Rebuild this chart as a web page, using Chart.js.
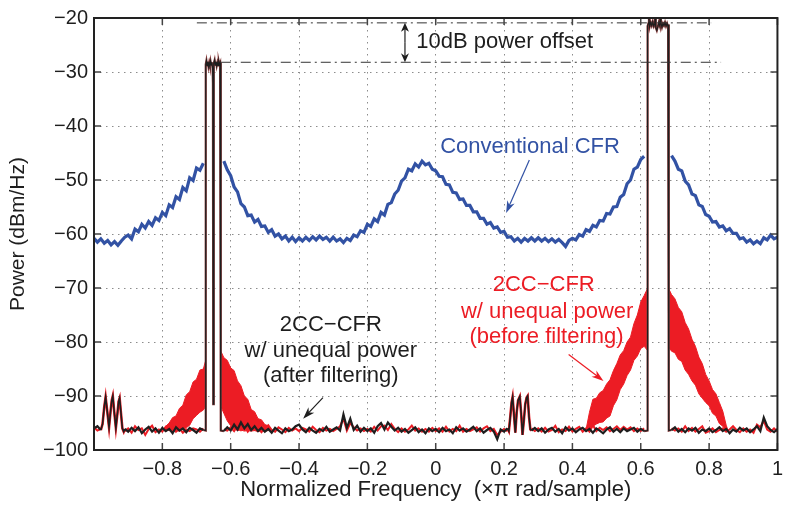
<!DOCTYPE html>
<html>
<head>
<meta charset="utf-8">
<script src="https://cdn.jsdelivr.net/npm/chart.js@4/dist/chart.umd.min.js"></script>
<style>
  body { margin: 0; background: #fff; }
  canvas { display: block; }
</style>
</head>
<body>
<canvas id="chart" width="790" height="508"></canvas>
<script>
// frequency grid, step 0.01 (x pi rad/sample)
const freq = Array.from({ length: 201 }, (_, i) => Math.round((-1 + i * 0.01) * 100) / 100);

const xTicks = [-1, -0.8, -0.6, -0.4, -0.2, 0, 0.2, 0.4, 0.6, 0.8, 1];
const xTickLabels = ['', '−0.8', '−0.6', '−0.4', '−0.2', '0', '0.2', '0.4', '0.6', '0.8', '1'];
const yTicks = [-100, -90, -80, -70, -60, -50, -40, -30, -20];

// Conventional CFR (blue), dBm/Hz on the grid
const blueDb = [
  -60.8, -61.5, -60.9, -61.7, -61.2, -62.0, -61.4, -62.1, -61.3, -60.6,
  -60.2, -60.9, -59.1, -59.6, -58.2, -58.9, -57.7, -58.4, -57.0, -57.5,
  -56.0, -56.6, -54.6, -55.1, -53.1, -53.6, -51.4, -52.0, -49.6, -50.1,
  -47.8, -48.2, -46.9, null, null, null, null, null, -46.5, -48.1,
  -49.2, -51.3, -52.2, -54.4, -55.0, -56.6, -56.5, -57.8, -57.3, -58.6,
  -58.5, -59.7, -59.2, -60.4, -60.0, -60.9, -60.4, -61.3, -60.6, -61.4,
  -60.7, -61.3, -60.6, -61.2, -60.5, -61.1, -60.4, -61.0, -60.6, -61.3,
  -60.6, -61.3, -60.9, -61.6, -60.8, -61.2, -60.2, -60.5, -59.4, -59.7,
  -58.2, -58.6, -57.2, -57.7, -56.0, -56.5, -54.5, -54.2, -52.6, -51.9,
  -50.2, -49.6, -48.0, -48.3, -47.0, -47.6, -46.5, -47.2, -46.9, -48.0,
  -48.3, -49.3, -49.4, -50.8, -50.9, -52.3, -52.4, -53.6, -53.5, -54.7,
  -54.7, -55.9, -55.9, -57.1, -57.1, -58.2, -57.9, -58.9, -58.7, -59.7,
  -59.5, -60.6, -60.5, -61.3, -60.8, -61.5, -60.8, -61.3, -60.7, -61.3,
  -60.7, -61.3, -60.8, -61.4, -60.9, -61.5, -61.0, -61.6, -62.3, -61.2,
  -60.8, -61.1, -60.1, -60.4, -59.2, -59.5, -58.4, -58.7, -57.5, -57.6,
  -56.2, -56.3, -55.0, -54.9, -53.2, -52.7, -50.7, -50.0, -48.0, -47.6,
  -46.2, -45.6, null, null, null, null, null, null, null, -45.5,
  -46.5, -48.0, -48.3, -50.2, -50.9, -52.6, -52.9, -54.6, -54.9, -56.4,
  -56.7, -57.8, -57.7, -58.7, -58.5, -59.4, -59.0, -59.9, -59.9, -60.9,
  -60.7, -61.5, -61.1, -61.8, -61.3, -61.8, -60.7, -61.1, -60.2, -60.9,
  -60.6
];

// 2CC-CFR after filtering (black) noise floor on the grid
const blackDb = [
  -96.0, -95.6, -96.3, null, null, null, null, null, null, -96.1,
  -96.6, -95.9, -96.5, -95.8, -96.9, -96.2, -95.7, -96.6, -96.0, -96.8,
  -95.9, -96.5, -96.1, -96.9, -95.8, -96.4, -96.0, -96.7, -95.9, -96.3,
  -96.8, -96.0, -96.3, null, null, null, null, null, -96.5, -95.8,
  -96.4, -95.3, -96.2, -94.9, -96.0, -95.2, -96.3, -95.6, -96.5, -95.9,
  -96.6, -96.1, -96.8, -95.9, -96.4, -96.9, -96.0, -96.5, -96.2, -95.6,
  -95.3, -96.2, -96.7, -95.9, -96.4, -96.8, -96.1, -96.5, -95.7, -96.6,
  -96.2, -95.8, -96.4, -93.4, -95.9, -94.2, -96.3, -95.5, -96.6, -95.9,
  -96.5, -96.0, -96.8, -95.6, -95.0, -96.2, -94.9, -95.7, -96.4, -95.9,
  -96.6, -96.1, -96.8, -96.3, -95.8, -96.7, -96.2, -96.9, -96.0, -96.5,
  -96.1, -96.7, -95.9, -96.5, -96.2, -96.9, -95.8, -96.4, -96.0, -96.6,
  -96.2, -95.7, -96.5, -96.0, -96.8, -96.3, -95.9, -96.6, -98.0, -96.2,
  -96.6, -96.0, null, null, null, null, null, null, -96.4, -95.9,
  -96.5, -96.0, -96.8, -96.2, -95.9, -96.6, -96.1, -96.9, -95.8, -96.4,
  -96.0, -96.7, -96.2, -95.9, -96.5, -96.1, -96.8, -96.0, -96.4, -96.9,
  -96.2, -95.8, -96.6, -96.1, -96.7, -96.0, -96.5, -96.2, -95.9, -96.6,
  -96.1, -96.5, null, null, null, null, null, null, null, -96.3,
  -95.8, -96.6, -96.1, -96.7, -96.0, -96.4, -95.9, -96.8, -96.2, -96.5,
  -96.0, -96.7, -96.3, -95.8, -96.5, -96.1, -96.9, -96.2, -96.6, -95.9,
  -96.4, -96.0, -96.7, -96.2, -95.6, -96.5, -94.0, -95.6, -96.3, -96.7,
  -96.1
];

// 2CC-CFR before filtering (red) noise floor on the grid
const redDb = [
  -95.8, -96.4, -96.1, null, null, null, null, null, null, -96.5,
  -96.0, -96.8, -95.6, -96.3, -96.0, -97.2, -96.1, -95.5, -96.7, -96.2,
  -96.6, -95.7, -96.3, -95.5, -96.6, -96.0, -96.8, -96.2, -96.5, -96.0,
  -96.2, -96.6, -96.0, null, null, null, null, null, -96.2, -96.4,
  -95.8, -96.5, -95.5, -96.3, -95.4, -96.6, -95.8, -96.3, -95.9, -96.7,
  -96.0, -95.4, -96.3, -96.6, -95.8, -96.2, -96.7, -95.9, -96.4, -96.0,
  -96.5, -95.9, -96.2, -96.6, -95.7, -96.3, -96.7, -95.9, -96.4, -96.1,
  -96.5, -96.1, -95.6, -94.2, -96.4, -95.0, -95.8, -96.4, -96.0, -96.5,
  -96.1, -96.6, -95.7, -96.4, -95.6, -95.5, -96.3, -95.2, -96.1, -96.7,
  -96.0, -96.6, -96.2, -95.5, -96.4, -96.0, -96.6, -96.1, -96.6, -95.9,
  -96.5, -96.0, -96.6, -95.7, -96.6, -96.1, -96.5, -95.5, -96.6, -96.1,
  -96.5, -96.2, -95.8, -96.6, -96.0, -95.6, -96.5, -96.1, -97.2, -96.6,
  -96.1, -96.5, null, null, null, null, null, null, -96.0, -96.5,
  -96.0, -96.6, -95.9, -96.6, -96.3, -95.5, -96.7, -96.2, -96.5, -95.7,
  -96.6, -96.1, -95.7, -96.6, -96.0, -96.6, -95.4, -96.5, -95.9, -96.3,
  -95.8, -96.5, -96.1, -95.6, -96.3, -95.7, -96.2, -95.8, -96.5, -96.0,
  -96.5, -96.0, null, null, null, null, null, null, null, -96.0,
  -96.4, -96.0, -96.6, -95.6, -96.5, -95.9, -96.6, -96.1, -95.6, -96.8,
  -96.5, -96.0, -96.7, -96.3, -96.0, -96.6, -96.2, -95.6, -96.3, -96.7,
  -96.0, -96.6, -96.2, -96.8, -95.3, -95.8, -94.6, -96.2, -96.6, -96.0,
  -96.6
];

// periodic spurs (both traces)
const spurLFreq = [-0.98, -0.975, -0.970, -0.966, -0.962, -0.956, -0.951, -0.948, -0.945, -0.941, -0.936, -0.931, -0.928, -0.925, -0.921, -0.917, -0.913, -0.91];
const spurLDb = [-96.3, -95.2, -92.0, -90.2, -92.4, -95.8, -92.5, -90.8, -90.0, -92.8, -95.9, -93.0, -91.0, -90.4, -93.2, -96.0, -96.6, -96.1];
const spurRFreq = [0.21, 0.214, 0.218, 0.222, 0.225, 0.229, 0.233, 0.237, 0.241, 0.246, 0.25, 0.254, 0.258, 0.262, 0.266, 0.269, 0.273, 0.277, 0.28];
const spurRDb = [-96.0, -96.5, -94.0, -91.2, -90.2, -93.5, -96.8, -93.0, -90.8, -90.1, -93.2, -97.2, -94.5, -91.5, -90.3, -90.0, -93.8, -96.2, -96.4];

// carriers
const carrierLFreq = [-0.68, -0.673, -0.673, -0.671, -0.669, -0.667, -0.665, -0.663, -0.661, -0.659, -0.657, -0.655, -0.653, -0.652, -0.651, -0.650,
  -0.649, -0.647, -0.645, -0.643, -0.641, -0.639, -0.637, -0.635, -0.633, -0.631, -0.629, -0.629, -0.62];
const carrierLDb = [-96.3, -96.4, -28.6, -27.9, -28.8, -28.1, -29.0, -28.3, -28.9, -28.0, -28.7, -28.2, -29.3, -32.0, -91.5, -32.0,
  -28.4, -27.8, -28.7, -28.1, -28.9, -28.3, -28.8, -28.0, -28.6, -28.3, -28.8, -96.4, -96.5];
const carrierRFreq = [0.61, 0.620, 0.620, 0.623, 0.624, 0.626, 0.629, 0.632, 0.635, 0.638, 0.641, 0.642, 0.644, 0.647, 0.650, 0.653, 0.656, 0.657,
  0.659, 0.662, 0.665, 0.668, 0.671, 0.674, 0.677, 0.680, 0.682, 0.682, 0.69];
const carrierRDb = [-96.5, -96.4, -21.5, -20.9, -19.9, -21.6, -20.8, -21.4, -20.7, -21.5, -21.0, -19.9, -21.8, -22.3, -21.6, -20.8, -21.5, -19.9,
  -20.9, -21.7, -21.0, -21.4, -20.8, -21.5, -21.0, -21.6, -21.2, -96.4, -96.3];

// red regrowth around the carriers: lower / upper edge of the band
const regrowLLFreq = [-0.80, -0.79, -0.78, -0.77, -0.76, -0.75, -0.74, -0.73, -0.72, -0.71, -0.70, -0.69, -0.68, -0.674];
const regrowLLUpper = [-96.3, -95.6, -95.0, -94.0, -93.7, -92.3, -91.7, -89.8, -89.2, -87.4, -86.9, -85.2, -85.0, -83.6];
const regrowLLLower = [-96.3, -96.5, -96.3, -96.6, -96.4, -96.5, -96.2, -95.9, -95.4, -94.2, -93.6, -93.0, -92.6, -92.0];
const regrowLRFreq = [-0.628, -0.62, -0.61, -0.60, -0.59, -0.58, -0.57, -0.56, -0.55, -0.54, -0.53, -0.52, -0.51, -0.50, -0.49, -0.48];
const regrowLRUpper = [-81.8, -82.9, -83.4, -84.8, -85.3, -87.2, -88.1, -90.0, -90.6, -92.5, -92.9, -94.2, -94.4, -95.3, -95.5, -96.2];
const regrowLRLower = [-92.0, -93.2, -94.6, -95.5, -96.1, -96.4, -96.3, -96.5, -96.4, -96.5, -96.4, -96.6, -96.4, -96.5, -96.4, -96.3];
const regrowRLFreq = [0.44, 0.45, 0.46, 0.47, 0.48, 0.49, 0.50, 0.51, 0.52, 0.53, 0.54, 0.55, 0.56, 0.57, 0.58, 0.59, 0.60, 0.61, 0.619];
const regrowRLUpper = [-96.2, -93.0, -90.6, -90.4, -89.4, -89.0, -87.8, -87.0, -85.3, -84.0, -82.4, -81.6, -80.0, -79.1, -76.6, -75.0, -72.6, -71.4, -70.2];
const regrowRLLower = [-96.4, -96.2, -95.6, -95.2, -94.9, -94.8, -94.1, -93.7, -91.8, -90.7, -88.8, -87.8, -86.2, -85.2, -83.4, -82.6, -81.2, -80.8, -81.5];
const regrowRRFreq = [0.683, 0.69, 0.70, 0.71, 0.72, 0.73, 0.74, 0.75, 0.76, 0.77, 0.78, 0.79, 0.80, 0.81, 0.82, 0.83, 0.84, 0.85, 0.855];
const regrowRRUpper = [-70.3, -71.2, -72.0, -73.6, -74.4, -76.4, -77.6, -79.5, -80.8, -82.8, -84.0, -86.0, -87.2, -88.8, -89.6, -91.2, -92.8, -95.4, -96.3];
const regrowRRLower = [-81.0, -81.7, -82.0, -83.2, -83.6, -85.2, -86.0, -87.2, -88.0, -89.6, -90.4, -91.2, -91.8, -93.2, -93.7, -95.1, -95.6, -96.4, -96.4];

// 10 dB offset reference levels
const levelHighFreq = [-0.699, 0.806];
const levelHighDb = [-20.9, -20.9];
const levelLowFreq = [-0.629, 0.835];
const levelLowDb = [-28.2, -28.2];

const BLUE = '#3252a4';
const RED = '#ec1c24';
const BLACK = '#1e1e1e';
const FONT = '"Liberation Sans", Arial, Helvetica, sans-serif';

const xy = (xs, ys) => xs.map((x, i) => ({ x: x, y: ys[i] }));

function line(data, color, width, extra) {
  return Object.assign({
    data: data,
    borderColor: color,
    backgroundColor: color,
    borderWidth: width,
    pointRadius: 0,
    tension: 0,
    fill: false,
    spanGaps: false
  }, extra || {});
}

function arrow(ctx, x1, y1, x2, y2, color, len, half) {
  const ang = Math.atan2(y2 - y1, x2 - x1);
  ctx.strokeStyle = color;
  ctx.fillStyle = color;
  ctx.lineWidth = 1.2;
  ctx.beginPath();
  ctx.moveTo(x1, y1);
  ctx.lineTo(x2 - Math.cos(ang) * len * 0.6, y2 - Math.sin(ang) * len * 0.6);
  ctx.stroke();
  ctx.beginPath();
  ctx.moveTo(x2, y2);
  ctx.lineTo(x2 - Math.cos(ang) * len + Math.sin(ang) * half, y2 - Math.sin(ang) * len - Math.cos(ang) * half);
  ctx.lineTo(x2 - Math.cos(ang) * len * 0.7, y2 - Math.sin(ang) * len * 0.7);
  ctx.lineTo(x2 - Math.cos(ang) * len - Math.sin(ang) * half, y2 - Math.sin(ang) * len + Math.cos(ang) * half);
  ctx.closePath();
  ctx.fill();
}

const framePlugin = {
  id: 'frame',
  afterDatasetsDraw(chart) {
    const { ctx, chartArea: a, scales: { x, y } } = chart;
    const px = v => x.getPixelForValue(v);
    const py = v => y.getPixelForValue(v);
    ctx.save();

    // inward ticks on all four sides
    ctx.strokeStyle = '#444';
    ctx.lineWidth = 1.5;
    ctx.beginPath();
    xTicks.forEach(v => {
      ctx.moveTo(px(v), a.bottom); ctx.lineTo(px(v), a.bottom - 7);
      ctx.moveTo(px(v), a.top); ctx.lineTo(px(v), a.top + 7);
    });
    yTicks.forEach(v => {
      ctx.moveTo(a.left, py(v)); ctx.lineTo(a.left + 7, py(v));
      ctx.moveTo(a.right, py(v)); ctx.lineTo(a.right - 7, py(v));
    });
    ctx.stroke();
    ctx.strokeStyle = '#222';
    ctx.lineWidth = 2;
    ctx.strokeRect(a.left, a.top, a.width, a.height);

    // 10 dB offset annotation
    const ax = px(-0.09);
    arrow(ctx, ax, py(-24.6), ax, py(-20.9), BLACK, 9, 4);
    arrow(ctx, ax, py(-24.6), ax, py(-28.2), BLACK, 9, 4);
    ctx.font = '22px ' + FONT;
    ctx.textBaseline = 'middle';
    ctx.textAlign = 'left';
    ctx.fillStyle = BLACK;
    ctx.fillText('10dB power offset', px(-0.057), py(-24.5));

    // Conventional CFR label
    ctx.fillStyle = BLUE;
    ctx.fillText('Conventional CFR', px(0.013), py(-43.8));
    arrow(ctx, px(0.274), py(-46.3), px(0.206), py(-56.1), BLUE, 12, 4);

    // after filtering label
    ctx.textAlign = 'center';
    ctx.fillStyle = BLACK;
    ctx.fillText('2CC−CFR', px(-0.307), py(-76.8));
    ctx.fillText('w/ unequal power', px(-0.307), py(-81.7));
    ctx.fillText('(after filtering)', px(-0.307), py(-86.3));
    arrow(ctx, px(-0.33), py(-90.3), px(-0.388), py(-94.2), BLACK, 12, 4);

    // before filtering label
    ctx.fillStyle = RED;
    ctx.fillText('2CC−CFR', px(0.316), py(-69.5));
    ctx.fillText('w/ unequal power', px(0.326), py(-74.4));
    ctx.fillText('(before filtering)', px(0.324), py(-79.1));
    arrow(ctx, px(0.389), py(-82.3), px(0.491), py(-87.2), RED, 12, 4);

    ctx.restore();
  }
};

new Chart(document.getElementById('chart'), {
  type: 'line',
  data: {
    datasets: [
      line(xy(levelHighFreq, levelHighDb), '#333', 1, { borderDash: [10, 4, 2, 4] }),
      line(xy(levelLowFreq, levelLowDb), '#333', 1, { borderDash: [10, 4, 2, 4] }),
      line(xy(carrierLFreq, carrierLDb), BLACK, 1.2),
      line(xy(carrierRFreq, carrierRDb), BLACK, 1.2),
      line(xy(spurLFreq, spurLDb), BLACK, 1.6),
      line(xy(spurRFreq, spurRDb), BLACK, 1.6),
      line(xy(freq, blackDb), BLACK, 2.2),
      line(xy(carrierLFreq, carrierLDb), '#8a3c3c', 2.2),
      line(xy(carrierRFreq, carrierRDb), '#8a3c3c', 2.2),
      line(xy(spurLFreq, spurLDb), RED, 2.6),
      line(xy(spurRFreq, spurRDb), RED, 2.6),
      line(xy(regrowLLFreq, regrowLLLower), RED, 1),
      line(xy(regrowLLFreq, regrowLLUpper), RED, 1, { fill: '-1' }),
      line(xy(regrowLRFreq, regrowLRLower), RED, 1),
      line(xy(regrowLRFreq, regrowLRUpper), RED, 1, { fill: '-1' }),
      line(xy(regrowRLFreq, regrowRLLower), RED, 1),
      line(xy(regrowRLFreq, regrowRLUpper), RED, 1, { fill: '-1' }),
      line(xy(regrowRRFreq, regrowRRLower), RED, 1),
      line(xy(regrowRRFreq, regrowRRUpper), RED, 1, { fill: '-1' }),
      line(xy(freq, redDb), RED, 2),
      line(xy(freq, blueDb), BLUE, 3.2)
    ]
  },
  options: {
    responsive: false,
    animation: false,
    devicePixelRatio: 1,
    layout: { autoPadding: false, padding: { left: 0, top: 13, right: 6, bottom: 0 } },
    plugins: { legend: { display: false }, tooltip: { enabled: false } },
    scales: {
      x: {
        type: 'linear',
        min: -1,
        max: 1,
        afterBuildTicks: s => { s.ticks = xTicks.map(v => ({ value: v })); },
        afterFit: s => { s.height = 58; },
        grid: { color: '#8c8c8c', lineWidth: 1, drawTicks: false },
        border: { display: false, dash: [1.5, 4.5] },
        ticks: {
          padding: 7,
          maxRotation: 0,
          autoSkip: false,
          color: BLACK,
          font: { family: FONT, size: 20 },
          callback: (v, i) => xTickLabels[i]
        },
        title: {
          display: true,
          text: 'Normalized Frequency  (×π rad/sample)',
          color: BLACK,
          font: { family: FONT, size: 22 },
          padding: { top: 0, bottom: 5 }
        }
      },
      y: {
        type: 'linear',
        min: -100,
        max: -20,
        afterBuildTicks: s => { s.ticks = yTicks.map(v => ({ value: v })); },
        afterFit: s => { s.width = 94; },
        grid: { color: '#8c8c8c', lineWidth: 1, drawTicks: false },
        border: { display: false, dash: [1.5, 4.5] },
        ticks: {
          padding: 6,
          autoSkip: false,
          color: BLACK,
          font: { family: FONT, size: 20 },
          callback: v => String(v).replace('-', '−')
        },
        title: {
          display: true,
          text: 'Power (dBm/Hz)',
          color: BLACK,
          font: { family: FONT, size: 21 },
          padding: { top: 6, bottom: 0 }
        }
      }
    }
  },
  plugins: [framePlugin]
});
</script>
</body>
</html>
